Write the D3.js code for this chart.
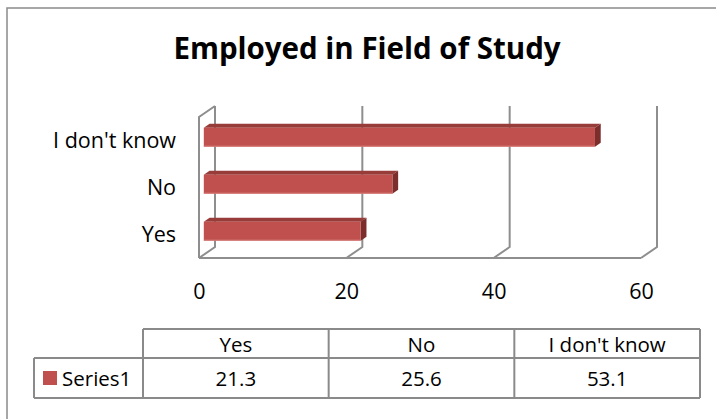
<!DOCTYPE html>
<html>
<head>
<meta charset="utf-8">
<script src="https://cdn.jsdelivr.net/npm/d3@7"></script>
<style>
  html, body { margin: 0; padding: 0; background: #fff; }
  svg { display: block; }
  text { font-family: "Open Sans", "Liberation Sans", sans-serif; fill: #000; }
</style>
</head>
<body>
<svg id="chart" width="716" height="419"></svg>
<script>
// Survey answers and their percentages
const categories = ["Yes", "No", "I don't know"];
const values = [21.3, 25.6, 53.1];
const xTicks = [0, 20, 40, 60];
const seriesName = "Series1";
const chartTitle = "Employed in Field of Study";

const svg = d3.select("#chart");
const W = 716, H = 419;

// Pseudo-3D geometry: front plane of the plot and the depth vector to the back wall
const depthX = 16, depthY = -11;
const plotTop = 117, plotBottom = 258;
const x = d3.scaleLinear().domain([0, 60]).range([199, 641]);
const y = d3.scaleBand().domain(categories).range([plotBottom, plotTop])
  .paddingInner(0.596).paddingOuter(0.298);

const gridColor = "#8e8e8e";
const barFront = "#C0504D", barTop = "#983C3A", barSide = "#7B2E2C";

// Chart outer frame
svg.append("rect")
  .attr("x", 7).attr("y", 8).attr("width", W + 40).attr("height", H + 40)
  .attr("fill", "none").attr("stroke", "#8a8a8a").attr("stroke-width", 1.5);

// Title
svg.append("text")
  .attr("x", 367).attr("y", 59)
  .attr("text-anchor", "middle")
  .style("font-weight", "bold").style("font-size", "29.5px")
  .text(chartTitle);

// Walls and gridlines
const walls = svg.append("g").attr("fill", "none")
  .attr("stroke", gridColor).attr("stroke-width", 2);

// back-wall gridlines plus their diagonals onto the floor
xTicks.forEach(t => {
  const bx = x(t) + depthX;
  walls.append("polyline")
    .attr("points", [
      [bx, plotTop + depthY],
      [bx, plotBottom + depthY],
      [x(t), plotBottom]
    ].map(p => p.join(",")).join(" "));
});
// floor front edge
walls.append("line")
  .attr("x1", x(0)).attr("x2", x(60))
  .attr("y1", plotBottom).attr("y2", plotBottom);
// side wall front edge and top
walls.append("polyline")
  .attr("points", [
    [x(0), plotBottom],
    [x(0), plotTop],
    [x(0) + depthX, plotTop + depthY]
  ].map(p => p.join(",")).join(" "));

// Bars
const d0 = 0.3, dd = 0.36;
const bw = y.bandwidth();
const bars = svg.append("g");
categories.forEach((c, i) => {
  const xa = x(0) + depthX * d0;
  const xb = x(values[i]) + depthX * d0;
  const ya = y(c) + depthY * d0;
  const sx = depthX * dd, sy = depthY * dd;
  const g = bars.append("g");
  g.append("polygon")
    .attr("points", [[xa, ya], [xb, ya], [xb + sx, ya + sy], [xa + sx, ya + sy]]
      .map(p => p.join(",")).join(" "))
    .attr("fill", barTop);
  g.append("polygon")
    .attr("points", [[xb, ya], [xb + sx, ya + sy], [xb + sx, ya + bw + sy], [xb, ya + bw]]
      .map(p => p.join(",")).join(" "))
    .attr("fill", barSide);
  g.append("rect")
    .attr("x", xa).attr("y", ya)
    .attr("width", xb - xa).attr("height", bw)
    .attr("fill", barFront);
  g.append("line")
    .attr("x1", xa).attr("x2", xb)
    .attr("y1", ya + bw - 0.5).attr("y2", ya + bw - 0.5)
    .attr("stroke", "#D9827F").attr("stroke-width", 1);
});

// Category labels
const labelFont = "21.5px";
svg.append("g").selectAll("text")
  .data(categories).join("text")
  .attr("x", 176)
  .attr("y", c => y(c) + bw / 2 + 7.5)
  .attr("text-anchor", "end")
  .style("font-size", labelFont)
  .text(c => c);

// Value axis
const axis = svg.append("g")
  .attr("transform", `translate(0,299)`)
  .call(d3.axisBottom(x).tickValues(xTicks).tickSize(0).tickPadding(0));
axis.select(".domain").remove();
axis.selectAll("text")
  .attr("y", 0).attr("dy", null)
  .style("font-family", '"Open Sans", "Liberation Sans", sans-serif')
  .style("font-size", labelFont).attr("fill", "#000");

// Data table
const col = d3.scaleBand().domain(categories).range([143, 700]);
const tTop = 329, tMid = 358, tBot = 398, legendLeft = 34;
const table = svg.append("g").attr("stroke", "#8a8a8a").attr("stroke-width", 2).attr("fill", "none");
table.append("line").attr("x1", col.range()[0]).attr("x2", col.range()[1]).attr("y1", tTop).attr("y2", tTop);
table.append("line").attr("x1", legendLeft).attr("x2", col.range()[1]).attr("y1", tMid).attr("y2", tMid);
table.append("line").attr("x1", legendLeft).attr("x2", col.range()[1]).attr("y1", tBot).attr("y2", tBot);
table.append("line").attr("x1", legendLeft).attr("x2", legendLeft).attr("y1", tMid).attr("y2", tBot);
categories.forEach(c => {
  table.append("line").attr("x1", col(c)).attr("x2", col(c)).attr("y1", tTop).attr("y2", tBot);
});
table.append("line").attr("x1", col.range()[1]).attr("x2", col.range()[1]).attr("y1", tTop).attr("y2", tBot);

const tableFont = "20.5px";
svg.append("g").selectAll("text")
  .data(categories).join("text")
  .attr("x", c => col(c) + col.bandwidth() / 2)
  .attr("y", 352)
  .attr("text-anchor", "middle")
  .style("font-size", tableFont)
  .text(c => c);
svg.append("g").selectAll("text")
  .data(values).join("text")
  .attr("x", (v, i) => col(categories[i]) + col.bandwidth() / 2)
  .attr("y", 386)
  .attr("text-anchor", "middle")
  .style("font-size", tableFont)
  .text(v => v.toFixed(1));

// Legend key inside the table
svg.append("rect")
  .attr("x", 43).attr("y", 371).attr("width", 14).attr("height", 14)
  .attr("fill", barFront);
svg.append("text")
  .attr("x", 62).attr("y", 386)
  .style("font-size", tableFont)
  .text(seriesName);
</script>
</body>
</html>
